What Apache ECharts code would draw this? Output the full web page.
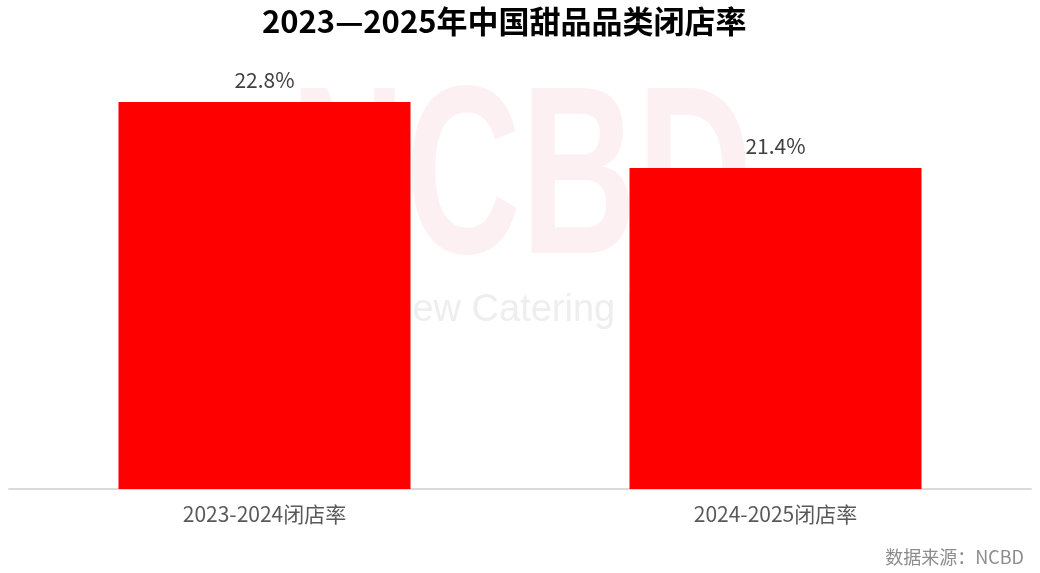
<!DOCTYPE html>
<html>
<head>
<meta charset="utf-8">
<script src="https://cdn.jsdelivr.net/npm/echarts@6/dist/echarts.min.js"></script>
<style>
html,body{margin:0;padding:0;background:#fff;}
#c{width:1040px;height:573px;}
</style>
</head>
<body>
<div id="c"></div>
<script>
const titleText = '2023—2025年中国甜品品类闭店率';
const categories = ['2023-2024闭店率', '2024-2025闭店率'];
const closeRates = [22.8, 21.4];
const sourceText = '数据来源：NCBD';

const FONT = '"Noto Sans CJK SC", "Noto Sans", sans-serif';
const chart = echarts.init(document.getElementById('c'), null, {renderer: 'canvas'});
chart.setOption({
  backgroundColor: '#ffffff',
  animation: false,
  title: {
    text: titleText,
    left: 262,
    top: 6,
    padding: 0,
    textStyle: {fontFamily: FONT, fontSize: 31, fontWeight: 'bold', color: '#000000'}
  },
  graphic: [
    {
      type: 'text', z: -10, silent: true,
      left: 290, top: 67,
      scaleY: 1.5,
      style: {text: 'NCBD', fontFamily: '"Liberation Sans", Arial, sans-serif', fontWeight: 'bold', fontSize: 160, fill: '#fdf0f3'}
    },
    {
      type: 'text', z: -10, silent: true,
      left: 385, top: 292,
      style: {text: 'New Catering Big Data', fontFamily: '"Liberation Sans", Arial, sans-serif', fontSize: 38, fill: '#eeeeee'}
    },
    {
      type: 'text', right: 16, top: 548,
      style: {text: sourceText, fontFamily: FONT, fontSize: 18, fill: '#8c8c8c'}
    }
  ],
  grid: {left: 9, right: 9, top: 45.4, bottom: 84, containLabel: false},
  xAxis: {
    type: 'category',
    data: categories,
    axisLine: {show: true, lineStyle: {color: '#dadada', width: 2}},
    axisTick: {show: false},
    axisLabel: {fontFamily: FONT, fontSize: 21, color: '#595959', margin: 15}
  },
  yAxis: {
    type: 'value',
    min: 14.6,
    max: 24,
    show: false,
    splitLine: {show: false}
  },
  series: [{
    type: 'bar',
    data: closeRates,
    barWidth: 292,
    z: 2,
    itemStyle: {color: '#ff0000'},
    label: {
      show: true,
      position: 'top',
      distance: 12,
      formatter: p => p.value.toFixed(1) + '%',
      fontFamily: FONT,
      fontSize: 21,
      color: '#404040'
    }
  }]
});
</script>
</body>
</html>
